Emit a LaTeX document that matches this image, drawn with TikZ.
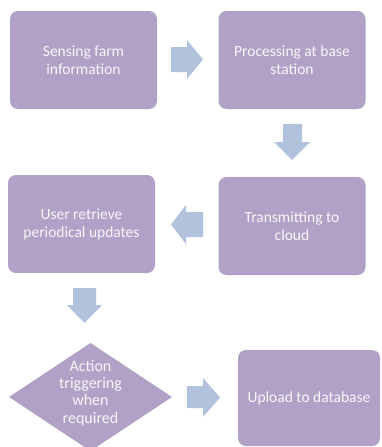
\documentclass[tikz,border=0pt]{standalone}
\usepackage{fontspec}
\setmainfont{Carlito}
\usetikzlibrary{shapes.geometric}
\definecolor{boxfill}{HTML}{B2A1C7}
\definecolor{arrfill}{HTML}{B0C2DC}
\definecolor{txt}{HTML}{F7F7F7}
\begin{document}
\begin{tikzpicture}[x=1pt,y=-1pt,
  stepbox/.style={fill=boxfill, draw=none, rounded corners=8pt, text=txt,
    font=\fontsize{15.5}{18}\selectfont, align=center, inner sep=0pt},
  blockarrow/.style={fill=arrfill, draw=none}]
\useasboundingbox (0,0) rectangle (381,447);
\begin{scope}
\clip (0,0) rectangle (381,447);
\node[stepbox, minimum width=147pt, minimum height=98pt] (sense) at (83.5,60) {Sensing farm\\information};
\node[stepbox, minimum width=147pt, minimum height=98pt] (proc) at (292,60) {Processing at base\\station};
\node[stepbox, minimum width=147pt, minimum height=98pt] (trans) at (292,226) {Transmitting to\\cloud};
\node[stepbox, minimum width=147pt, minimum height=98pt] (user) at (81.5,224) {User retrieve\\periodical updates};
\node[stepbox, minimum width=142pt, minimum height=96pt] (upload) at (309,398) {Upload to database};
\fill[boxfill] (90.5,343) coordinate (dtop) -- (172,397) coordinate (dright) -- (90.5,451) -- (9,397) coordinate (dleft) -- cycle;
\node[text=txt, font=\fontsize{16}{17.3}\selectfont, align=center] (action) at (90.5,393) {Action\\triggering\\when\\required};
% block arrows
\fill[blockarrow] (171,47) -- (187,47) -- (187,40) -- (203,59.5) -- (187,79) -- (187,72) -- (171,72) -- cycle;
\fill[blockarrow] (283,124) -- (302,124) -- (302,142) -- (310,142) -- (292,160) -- (274,142) -- (283,142) -- cycle;
\fill[blockarrow] (203,212) -- (186,212) -- (186,205) -- (171,224.5) -- (186,244) -- (186,237) -- (203,237) -- cycle;
\fill[blockarrow] (73,288) -- (96,288) -- (96,305) -- (102,305) -- (84.5,323) -- (67,305) -- (73,305) -- cycle;
\fill[blockarrow] (187,386) -- (203,386) -- (203,378) -- (220,397.5) -- (203,417) -- (203,408) -- (187,408) -- cycle;
\end{scope}
\end{tikzpicture}
\end{document}
